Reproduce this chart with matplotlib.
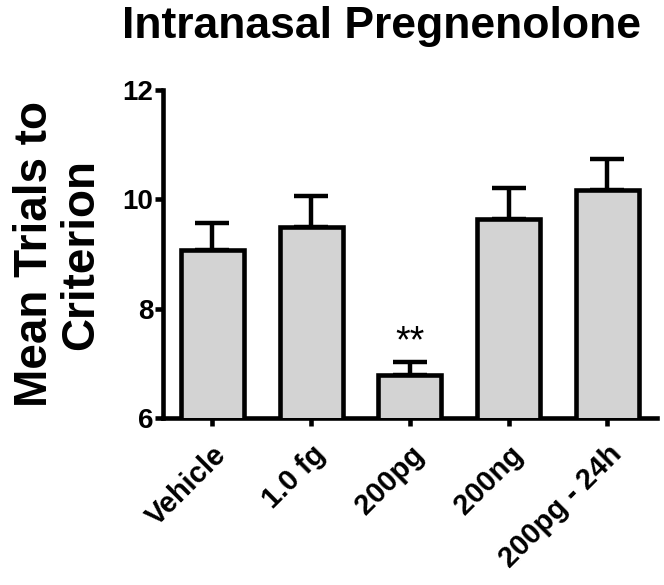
import matplotlib.pyplot as plt

plt.rcParams['font.family'] = ['Liberation Sans', 'DejaVu Sans']

groups = ["Vehicle", "1.0 fg", "200pg", "200ng", "200pg - 24h"]
means = [9.08, 9.49, 6.78, 9.65, 10.18]
sems = [0.48, 0.58, 0.24, 0.55, 0.55]
yticks = [6, 8, 10, 12]


def main():
    fig = plt.figure(figsize=(6.64, 5.85), dpi=100)
    ax = fig.add_axes([0.2455, 0.2855, 0.7435, 0.5605])

    x = list(range(len(groups)))
    ax.bar(x, means, width=0.64, color="#d3d3d3", edgecolor="black", linewidth=3.3, zorder=3)
    ax.errorbar(x, means, yerr=[[0] * len(sems), sems], fmt="none", ecolor="black",
                elinewidth=3.2, capsize=12, capthick=3.2, zorder=2)

    # significance marker over 200pg
    ax.text(2, means[2] + sems[2] + 0.03, "**", ha="center", va="bottom", fontsize=27)

    ax.set_xlim(-0.5, 4.5)
    ax.set_ylim(6, 12)
    ax.set_yticks(yticks)
    ax.set_xticks(x)
    ax.set_xticklabels(groups, rotation=45, ha="right", rotation_mode="anchor",
                       fontsize=21, fontweight="bold")
    for lab in ax.get_yticklabels():
        lab.set_fontsize(20)
        lab.set_fontweight("bold")

    for s in ["top", "right"]:
        ax.spines[s].set_visible(False)
    for s in ["left", "bottom"]:
        ax.spines[s].set_linewidth(3.3)
    ax.tick_params(axis="both", length=6, width=3.3, pad=1)
    ax.tick_params(axis="x", pad=10)

    ax.set_ylabel("Mean Trials to\nCriterion", fontsize=33, fontweight="bold",
                  labelpad=14, linespacing=1.05)
    fig.text(0.575, 0.935, "Intranasal Pregnenolone", ha="center", va="baseline",
             fontsize=32, fontweight="bold")

    fig.savefig("out.png", dpi=100)


if __name__ == "__main__":
    main()
